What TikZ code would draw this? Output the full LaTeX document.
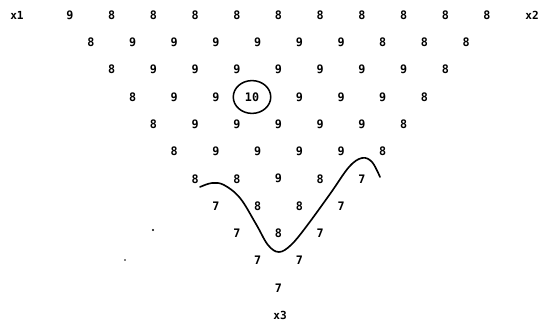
\documentclass[tikz,border=0pt]{standalone}
\usepackage{fontspec}
\setmonofont{DejaVu Sans Mono}
\usetikzlibrary{shapes.geometric}
\tikzset{
    entry/.style={
        inner sep=0pt,
        font=\fontsize{10}{11}\selectfont\ttfamily\bfseries
    },
    corner/.style={
        inner sep=0pt,
        font=\fontsize{9.5}{11}\selectfont\ttfamily\bfseries
    },
    ring/.style={
        ellipse, draw, line width=1.3pt,
        minimum width=32, minimum height=28
    },
    stroke/.style={line width=1.4pt, line cap=round, line join=round}
}

\begin{document}
\begin{tikzpicture}[x=0.03cm, y=-0.03cm]
    \useasboundingbox (0,0) rectangle (541,320);

    % corners of the simplex
    \node[corner] (x1) at (17,15) {x1};
    \node[corner] (x2) at (532,15) {x2};
    \node[corner] (x3) at (280,315) {x3};

    % triangular grid of values
    \foreach \vals [count=\r from 0] in {
        {9,8,8,8,8,8,8,8,8,8,8},
        {8,9,9,9,9,9,9,8,8,8},
        {8,9,9,9,9,9,9,9,8},
        {8,9,9,{},9,9,9,8},
        {8,9,9,9,9,9,8},
        {8,9,9,9,9,8},
        {8,8,9,8,7},
        {7,8,8,7},
        {7,8,7},
        {7,7},
        {7}}
    {
        \foreach \v [count=\k from 0] in \vals {
            \node[entry] (n-\r-\k) at ({70+20.85*\r+41.7*\k},{15+27.3*\r}) {\v};
        }
    }

    % the maximum
    \node[ring, entry] (top) at (252,97) {10};

    % level curve
    \draw[stroke] plot[smooth, tension=0.6] coordinates {
        (200,187) (212,183) (224,185) (240,198) (256,224) (268,245)
        (279,252) (291,245) (306,227) (330,194) (349,167) (362,158)
        (372,162) (380,177)};

    % specks
    \fill (153,230) circle (1pt);
    \fill (125,260) circle (0.8pt);
\end{tikzpicture}
\end{document}
